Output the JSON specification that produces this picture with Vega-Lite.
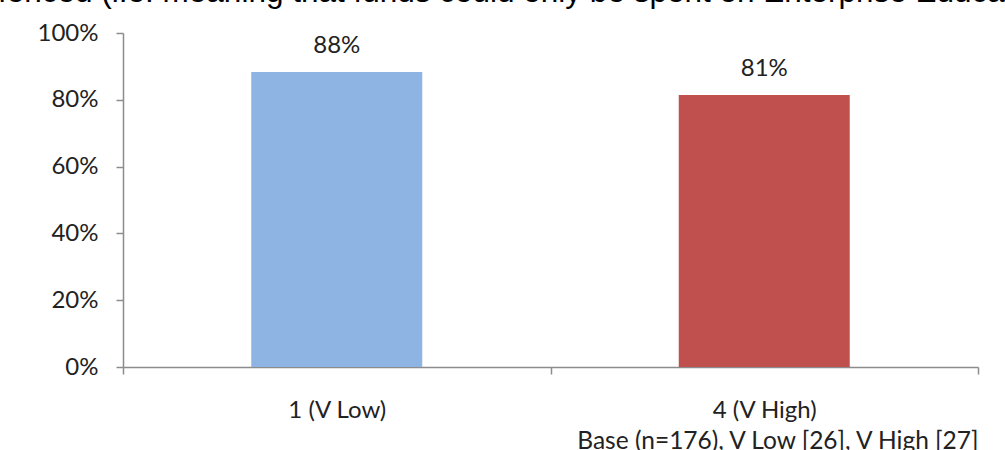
{
  "$schema": "https://vega.github.io/schema/vega-lite/v6.json",
  "autosize": "none",
  "width": 855,
  "height": 334,
  "padding": {"left": 123, "top": 33, "right": 27, "bottom": 83},
  "background": "white",
  "title": {
    "text": "fenced (i.e. meaning that funds could only be spent on Enterprise Education)",
    "anchor": "start",
    "frame": "group",
    "orient": "top",
    "baseline": "alphabetic",
    "offset": 10,
    "dy": 22,
    "dx": -125,
    "font": "Liberation Sans",
    "fontSize": 31.5,
    "fontWeight": "normal",
    "color": "#000000"
  },
  "data": {
    "values": [
      {"group": "1 (V Low)", "share": 0.883},
      {"group": "4 (V High)", "share": 0.814}
    ]
  },
  "encoding": {
    "x": {
      "field": "group",
      "type": "nominal",
      "sort": null,
      "scale": {"paddingInner": 0, "paddingOuter": 0},
      "axis": {
        "title": "Base (n=176), V Low [26], V High [27]",
        "titleAnchor": "end",
        "titleAlign": "right",
        "titleBaseline": "alphabetic",
        "titleFont": "Lato",
        "titleFontSize": 24.5,
        "titleFontWeight": "normal",
        "titleColor": "#222222",
        "titlePadding": 26,
        "labelAngle": 0,
        "labelBaseline": "alphabetic",
        "labelFont": "Lato",
        "labelFontSize": 24,
        "labelColor": "#222222",
        "labelPadding": 43,
        "domainColor": "#8c8c8c",
        "domainWidth": 1.5,
        "tickColor": "#8c8c8c",
        "tickWidth": 1.5,
        "tickBand": "extent",
        "tickSize": 7,
        "grid": false
      }
    },
    "y": {
      "field": "share",
      "type": "quantitative",
      "scale": {"domain": [0, 1]},
      "axis": {
        "title": null,
        "format": ".0%",
        "values": [0, 0.2, 0.4, 0.6, 0.8, 1],
        "labelFont": "Lato",
        "labelFontSize": 24,
        "labelColor": "#222222",
        "labelPadding": 18,
        "domainColor": "#8c8c8c",
        "domainWidth": 1.5,
        "tickColor": "#8c8c8c",
        "tickWidth": 1.5,
        "tickSize": 7,
        "grid": false
      }
    }
  },
  "layer": [
    {
      "mark": {"type": "bar", "width": {"band": 0.4}},
      "encoding": {
        "color": {
          "field": "group",
          "type": "nominal",
          "scale": {"domain": ["1 (V Low)", "4 (V High)"], "range": ["#8EB4E3", "#C0504D"]},
          "legend": null
        }
      }
    },
    {
      "mark": {"type": "text", "baseline": "alphabetic", "dy": -19, "font": "Lato", "fontSize": 24, "color": "#222222"},
      "encoding": {
        "text": {"field": "share", "type": "quantitative", "format": ".0%"}
      }
    }
  ],
  "config": {"view": {"stroke": null}}
}
